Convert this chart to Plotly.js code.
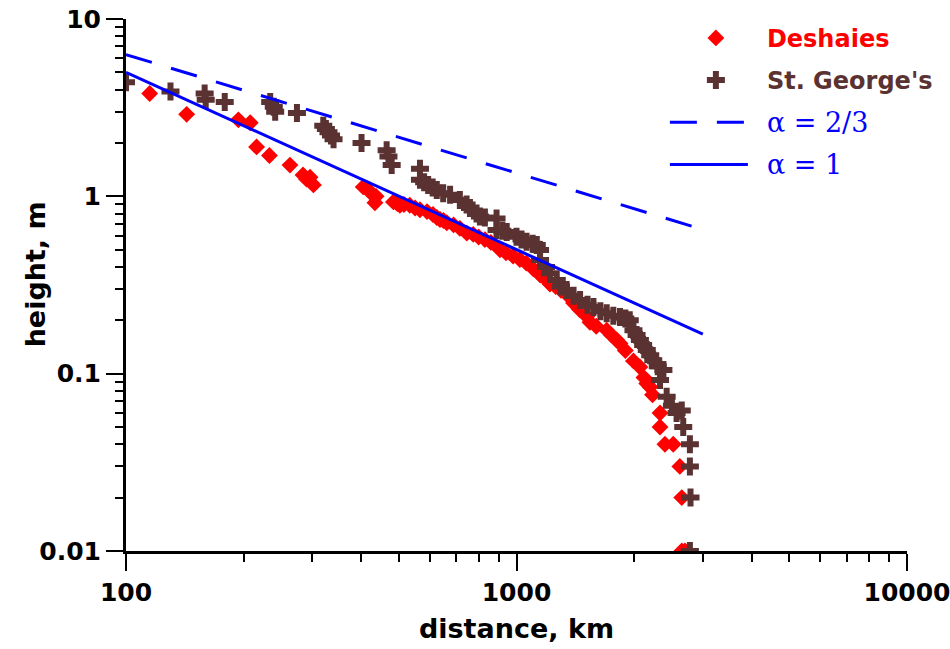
<!DOCTYPE html>
<html>
<head>
<meta charset="utf-8">
<script src="https://cdn.plot.ly/plotly-3.0.1.min.js"></script>
<style>html,body{margin:0;padding:0;background:#fff;}#chart{width:950px;height:649px;}</style>
</head>
<body>
<div id="chart"></div>
<script>
// Deshaies (distance km, height m)
var deshaiesX = [115,143,194,208,216,233,263,284,290,296,302,405,415,421,434,437,484,495,503,515,533,550,566,590,611,625,637,650,663,690,716,746,775,800,830,860,907,940,980,1020,1060,1104,1150,1190,1218,1260,1300,1344,1400,1450,1514,1542,1600,1702,1750,1805,1841,1900,1993,2070,2120,2156,2198,2230,2331,2331,2400,2520,2620,2650,2650,2700];
var deshaiesY = [3.8,2.9,2.7,2.6,1.9,1.7,1.5,1.32,1.25,1.28,1.16,1.13,1.10,1.06,0.92,1.0,0.93,0.91,0.89,0.90,0.89,0.86,0.84,0.82,0.79,0.76,0.74,0.73,0.71,0.69,0.66,0.62,0.61,0.59,0.57,0.55,0.50,0.48,0.46,0.44,0.42,0.39,0.36,0.34,0.32,0.31,0.295,0.28,0.25,0.23,0.21,0.195,0.185,0.176,0.165,0.155,0.148,0.135,0.118,0.109,0.095,0.088,0.084,0.076,0.06,0.05,0.04,0.04,0.03,0.02,0.01,0.01];

// St. George's
var georgeX = [100,130,159,160,179,234,239,241,274,320,325,330,335,340,401,465,470,479,566,566,580,594,610,625,649,676,716,745,760,790,806,830,889,889,920,944,1000,1030,1061,1100,1127,1149,1149,1190,1218,1268,1300,1344,1400,1455,1520,1574,1640,1702,1770,1841,1900,1950,1993,2030,2070,2110,2156,2200,2240,2300,2378,2331,2424,2500,2570,2650,2673,2780,2780,2790,2780];
var georgeY = [4.4,3.9,3.8,3.5,3.4,3.4,3.2,3.0,2.95,2.5,2.4,2.3,2.2,2.1,2.0,1.82,1.68,1.5,1.43,1.24,1.2,1.16,1.12,1.085,1.04,1.02,0.953,0.9,0.86,0.8,0.77,0.76,0.751,0.645,0.64,0.63,0.592,0.57,0.555,0.54,0.531,0.498,0.437,0.40,0.368,0.337,0.31,0.296,0.275,0.26,0.245,0.238,0.225,0.219,0.212,0.209,0.205,0.2,0.176,0.165,0.155,0.145,0.136,0.127,0.119,0.11,0.105,0.092,0.074,0.066,0.06,0.062,0.05,0.04,0.03,0.02,0.01];

// Reference power laws (end points)
var alpha23X = [100, 3000];
var alpha23Y = [6.3, 0.65];
var alpha1X = [100, 3000];
var alpha1Y = [5.0, 0.167];

// Tick labels
var xTickVals = [100, 1000, 10000];
var xTickText = ['100', '1000', '10000'];
var yTickVals = [0.01, 0.1, 1, 10];
var yTickText = ['0.01', '0.1', '1', '10'];

function minorVals(decades) {
  var out = [];
  decades.forEach(function (d) { for (var k = 2; k <= 9; k++) out.push(k * d); });
  return out;
}

var RED = '#ff0000', BROWN = '#5b3232', BLUE = '#0000ff';
var FONT = 'DejaVu Sans, Arial, sans-serif';
var SERIF = 'DejaVu Serif';

var traces = [
  {
    x: deshaiesX, y: deshaiesY, mode: 'markers', type: 'scatter',
    name: '<span style="color:' + RED + '">Deshaies</span>', legendgroup: 'a',
    marker: { symbol: 'diamond', size: 13, color: RED }
  },
  {
    x: georgeX, y: georgeY, mode: 'markers', type: 'scatter',
    name: '<span style="color:' + BROWN + '">St. George\'s</span>', legendgroup: 'b',
    marker: { symbol: 'cross', size: 15, color: BROWN }
  },
  {
    x: alpha23X, y: alpha23Y, mode: 'lines', type: 'scatter',
    name: '<span style="font-family:' + SERIF + ';font-weight:normal;font-size:27px">α = 2/3</span>', legendgroup: 'c',
    line: { color: BLUE, width: 3, dash: '27px,20px' }
  },
  {
    x: alpha1X, y: alpha1Y, mode: 'lines', type: 'scatter',
    name: '<span style="font-family:' + SERIF + ';font-weight:normal;font-size:27px">α = 1</span>', legendgroup: 'd',
    line: { color: BLUE, width: 3 }
  }
];

var axisCommon = {
  showline: true, linewidth: 3, linecolor: '#000', mirror: false,
  showgrid: false, zeroline: false,
  ticks: 'outside', ticklen: 17, tickwidth: 2, tickcolor: '#000',
  tickfont: { family: FONT, size: 25, color: '#000', weight: 'bold' },
  ticklabeloverflow: 'allow',
  tickmode: 'array'
};

var layout = {
  width: 950, height: 649,
  margin: { l: 126, r: 43, t: 19, b: 98 },
  paper_bgcolor: '#fff', plot_bgcolor: '#fff',
  font: { family: FONT, color: '#000' },
  showlegend: true,
  legend: {
    x: 0.69, y: 1.006, xanchor: 'left', yanchor: 'top',
    bgcolor: 'rgba(0,0,0,0)', borderwidth: 0,
    font: { family: FONT, size: 24, color: BLUE, weight: 'bold' },
    itemwidth: 92, tracegroupgap: 8, traceorder: 'grouped'
  },
  xaxis: Object.assign({}, axisCommon, {
    type: 'log', range: [2, 4],
    tickvals: xTickVals, ticktext: xTickText,
    minor: { tickmode: 'array', tickvals: minorVals([100, 1000]), ticks: 'outside', ticklen: 8, tickwidth: 2, tickcolor: '#000', showgrid: false },
    title: { text: 'distance, km', font: { family: FONT, size: 27, color: '#000', weight: 'bold' }, standoff: 14 }
  }),
  yaxis: Object.assign({}, axisCommon, {
    type: 'log', range: [-2, 1],
    tickvals: yTickVals, ticktext: yTickText,
    minor: { tickmode: 'array', tickvals: minorVals([0.01, 0.1, 1]), ticks: 'outside', ticklen: 8, tickwidth: 2, tickcolor: '#000', showgrid: false }
  }),
  annotations: [{
    text: 'height, m', xref: 'paper', yref: 'paper', x: -0.1165, y: 0.52,
    xanchor: 'center', yanchor: 'middle', textangle: -90, showarrow: false,
    font: { family: FONT, size: 27, color: '#000', weight: 'bold' }
  }]
};

Plotly.newPlot('chart', traces, layout, { staticPlot: true, displayModeBar: false }).then(function (gd) {
  // lengthen the legend line samples to match the original key
  var lines = gd.querySelectorAll('.legend path.js-line');
  lines.forEach(function (p) { p.setAttribute('d', 'M5,0h78'); });
});
</script>
</body>
</html>
